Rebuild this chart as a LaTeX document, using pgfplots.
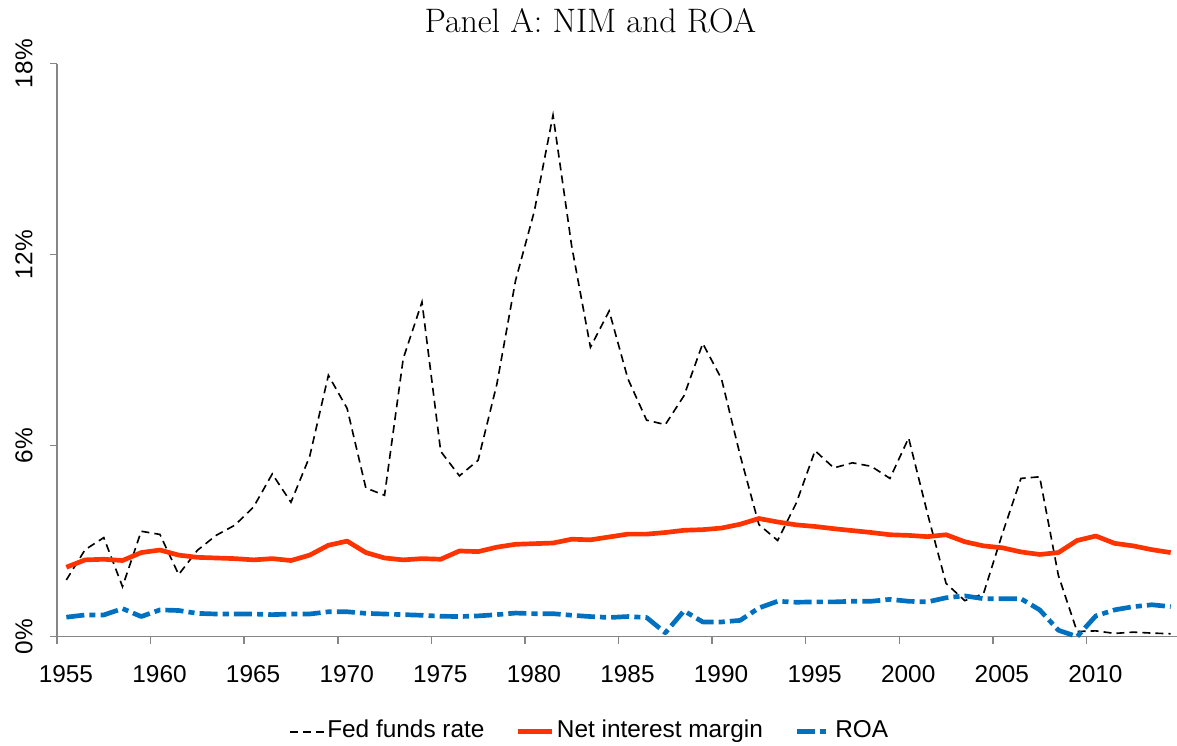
\documentclass[border=0pt]{standalone}
\usepackage{fontspec}
\usepackage{pgfplots}
\usepackage{pgfplotstable}
\pgfplotsset{compat=1.18}
\newfontfamily\arial{Liberation Sans}
\definecolor{axgray}{HTML}{868686}
\definecolor{nimred}{HTML}{FF3300}
\definecolor{roablue}{HTML}{0070C0}

\pgfplotstableread{
year ff nim roa
1955 1.78 2.18 0.61
1956 2.73 2.41 0.68
1957 3.11 2.43 0.68
1958 1.57 2.39 0.88
1959 3.31 2.64 0.63
1960 3.21 2.72 0.84
1961 1.95 2.56 0.82
1962 2.71 2.49 0.73
1963 3.18 2.47 0.71
1964 3.50 2.45 0.71
1965 4.07 2.41 0.71
1966 5.11 2.45 0.69
1967 4.22 2.39 0.71
1968 5.66 2.56 0.71
1969 8.21 2.87 0.78
1970 7.17 3.00 0.78
1971 4.67 2.64 0.73
1972 4.44 2.47 0.71
1973 8.74 2.41 0.69
1974 10.51 2.45 0.67
1975 5.82 2.43 0.64
1976 5.05 2.69 0.63
1977 5.54 2.67 0.65
1978 7.93 2.81 0.69
1979 11.19 2.90 0.74
1980 13.36 2.92 0.72
1981 16.38 2.94 0.72
1982 12.26 3.06 0.67
1983 9.09 3.04 0.63
1984 10.23 3.13 0.60
1985 8.10 3.22 0.63
1986 6.80 3.22 0.60
1987 6.66 3.27 0.12
1988 7.57 3.34 0.81
1989 9.21 3.36 0.46
1990 8.10 3.41 0.46
1991 5.69 3.53 0.51
1992 3.52 3.71 0.90
1993 3.02 3.60 1.11
1994 4.20 3.51 1.08
1995 5.84 3.46 1.09
1996 5.30 3.39 1.09
1997 5.46 3.33 1.11
1998 5.35 3.27 1.11
1999 4.97 3.20 1.17
2000 6.24 3.18 1.11
2001 3.88 3.14 1.09
2002 1.67 3.20 1.22
2003 1.13 2.98 1.28
2004 1.35 2.85 1.19
2005 3.22 2.79 1.19
2006 4.97 2.66 1.19
2007 5.02 2.58 0.84
2008 1.92 2.64 0.20
2009 0.16 3.02 0.00
2010 0.18 3.16 0.65
2011 0.10 2.93 0.84
2012 0.14 2.85 0.94
2013 0.11 2.73 1.00
2014 0.09 2.64 0.94
}\data

\begin{document}
\begin{tikzpicture}
\useasboundingbox (0,0) rectangle (579.1pt,367.0pt);
\begin{axis}[
  at={(28.04pt,53.78pt)}, anchor=south west,
  scale only axis, width=551.0pt, height=281.9pt,
  xmin=1955, xmax=2014.83, ymin=0, ymax=18,
  axis x line*=bottom, axis y line*=left,
  axis line style={-, draw=axgray, line width=0.75pt},
  xtick={1955,1960,...,2010},
  xticklabels={1955,1960,1965,1970,1975,1980,1985,1990,1995,2000,2005,2010},
  ytick={0,6,12,18},
  yticklabels={0\%,6\%,12\%,18\%},
  tick align=outside,
  major tick length=3.4pt,
  tick style={draw=axgray, line width=0.75pt},
  tick label style={font=\arial\fontsize{12}{14}\selectfont},
  xticklabel style={anchor=north, inner sep=0pt, xshift=4.4pt, yshift=-10.6pt},
  yticklabel style={xshift=-8.7pt, rotate=90, anchor=base, inner sep=0pt},
  title={Panel A: NIM and ROA},
  title style={at={(0.4763,1.0328)}, anchor=base, inner sep=0pt, font=\fontsize{16.7}{19}\selectfont},
  clip=false,
  legend columns=3,
  legend style={at={(0.4748,-0.186)}, anchor=south, draw=none, fill=none,
    inner sep=0pt, outer sep=0pt, font=\arial\fontsize{12}{14}\selectfont,
    nodes={inner sep=0pt, text height=8.6pt, text depth=2.6pt},
    column sep=1.2pt,
    /tikz/every even column/.append style={column sep=15.4pt}},
  legend image code/.code={\draw[#1] (0pt,0pt) -- (16.7pt,0pt);},
]
\addplot[black, line width=0.8pt, dash pattern=on 3.9pt off 2.5pt, mark=none]
  table[x expr=\thisrow{year}+0.5, y=ff] {\data};
\addlegendentry{Fed funds rate}
\addplot[nimred, line width=2.3pt, line join=round, mark=none]
  table[x expr=\thisrow{year}+0.5, y=nim] {\data};
\addlegendentry{Net interest margin}
\addplot[roablue, line width=2.3pt, line join=round, dash pattern=on 8.9pt off 2.5pt on 3pt off 2.5pt, mark=none]
  table[x expr=\thisrow{year}+0.5, y=roa] {\data};
\addlegendentry{ROA}
\end{axis}
\end{tikzpicture}
\end{document}
